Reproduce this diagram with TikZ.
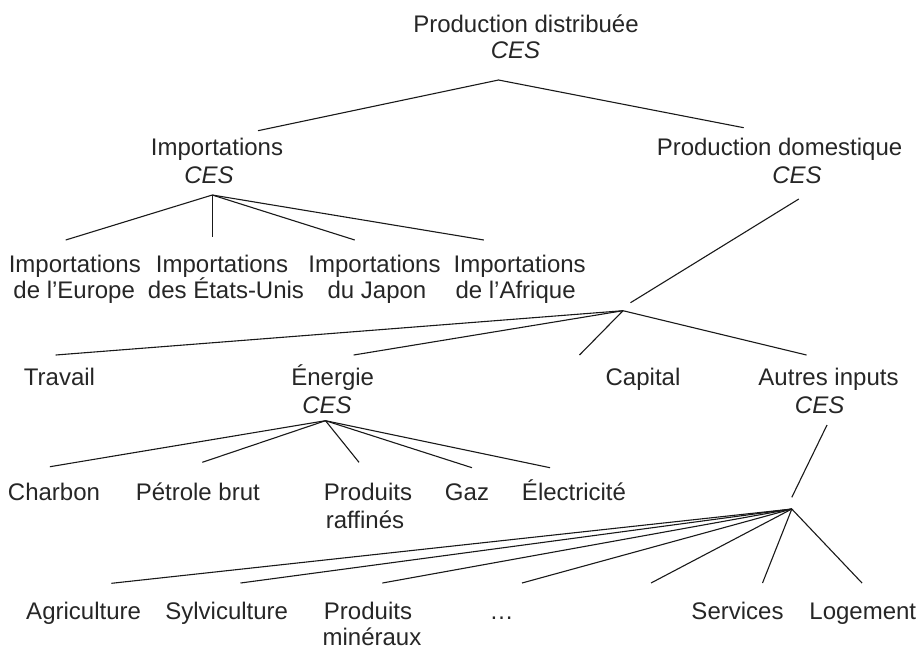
\documentclass[tikz,border=0pt]{standalone}
\usepackage{fontspec}
\setmainfont{Liberation Sans}
\begin{document}
\begin{tikzpicture}[x=1pt,y=-1pt,
  lbl/.style={inner sep=0pt, anchor=base, text=black!85, font=\fontsize{24}{28}\selectfont},
  ces/.style={lbl, font=\fontsize{24}{28}\selectfont\itshape},
  edge/.style={line width=1.1pt, black!90}]
\useasboundingbox (0,0) rectangle (917,649);
% level 0
\node[lbl] (pd) at (526,32) {Production distribuée};
\node[ces] (pdc) at (515.5,58) {CES};
% level 1
\node[lbl] (imp) at (217,155) {Importations};
\node[ces] (impc) at (209,183) {CES};
\node[lbl] (dom) at (779.5,155) {Production domestique};
\node[ces] (domc) at (797,183) {CES};
% imports children
\node[lbl] (i1) at (74.8,272) {Importations};
\node[lbl] (i1b) at (74.2,298) {de l’Europe};
\node[lbl] (i2) at (222,272) {Importations};
\node[lbl] (i2b) at (226,298) {des États-Unis};
\node[lbl] (i3) at (374.5,272) {Importations};
\node[lbl] (i3b) at (377,298) {du Japon};
\node[lbl] (i4) at (519.7,272) {Importations};
\node[lbl] (i4b) at (515.6,298) {de l’Afrique};
% domestic children
\node[lbl] (trav) at (59.5,385) {Travail};
\node[lbl] (ener) at (332.7,385) {Énergie};
\node[ces] (enerc) at (327,413) {CES};
\node[lbl] (cap) at (643,385) {Capital};
\node[lbl] (autr) at (828.5,385) {Autres inputs};
\node[ces] (autrc) at (819.6,413) {CES};
% energy children
\node[lbl] (e1) at (54,500) {Charbon};
\node[lbl] (e2) at (197.8,500) {Pétrole brut};
\node[lbl] (e3) at (368,500) {Produits};
\node[lbl] (e3b) at (365,528) {raffinés};
\node[lbl] (e4) at (467,500) {Gaz};
\node[lbl] (e5) at (574,500) {Électricité};
% other inputs children
\node[lbl] (a1) at (83.6,619) {Agriculture};
\node[lbl] (a2) at (226.7,619) {Sylviculture};
\node[lbl] (a3) at (368,619) {Produits};
\node[lbl] (a3b) at (372,645) {minéraux};
\node[lbl] (a4) at (501.5,619) {…};
\node[lbl] (a5) at (737.5,619) {Services};
\node[lbl] (a6) at (862.8,619) {Logement};
% connector points
\coordinate (pdA) at (498.5,80);
\coordinate (impT) at (258,130.7);
\coordinate (domT) at (743.7,127.7);
\coordinate (impA) at (212.3,195);
\coordinate (i1T) at (65.7,240);
\coordinate (i2T) at (212.3,236.7);
\coordinate (i3T) at (354.8,240);
\coordinate (i4T) at (483.9,240);
\coordinate (domA) at (798.8,199);
\coordinate (kT) at (630.5,302.7);
\coordinate (kA) at (623,310.7);
\coordinate (travT) at (55.7,355);
\coordinate (enerT) at (353.7,355);
\coordinate (capT) at (579.5,355);
\coordinate (autrT) at (806.5,355);
\coordinate (enerA) at (325.5,420.7);
\coordinate (e1T) at (49.9,466.7);
\coordinate (e2T) at (202.3,462.3);
\coordinate (e3T) at (359,462.3);
\coordinate (e4T) at (472,467.7);
\coordinate (e5T) at (550,467.7);
\coordinate (autrA) at (827,425);
\coordinate (oT) at (791.8,497.3);
\coordinate (oA) at (791.8,509);
\coordinate (a1T) at (111.4,583.3);
\coordinate (a2T) at (240.5,583);
\coordinate (a3T) at (382.4,583);
\coordinate (a4T) at (522,583);
\coordinate (a5T) at (651,583);
\coordinate (a6T) at (762.5,583);
\coordinate (a7T) at (862,583);
% connectors
\draw[edge] (impT) -- (pdA) -- (domT);
\draw[edge] (impA) -- (i1T);
\draw[edge] (impA) -- (i2T);
\draw[edge] (impA) -- (i3T);
\draw[edge] (impA) -- (i4T);
\draw[edge] (domA) -- (kT);
\draw[edge] (kA) -- (travT);
\draw[edge] (kA) -- (enerT);
\draw[edge] (kA) -- (capT);
\draw[edge] (kA) -- (autrT);
\draw[edge] (enerA) -- (e1T);
\draw[edge] (enerA) -- (e2T);
\draw[edge] (enerA) -- (e3T);
\draw[edge] (enerA) -- (e4T);
\draw[edge] (enerA) -- (e5T);
\draw[edge] (autrA) -- (oT);
\draw[edge] (oA) -- (a1T);
\draw[edge] (oA) -- (a2T);
\draw[edge] (oA) -- (a3T);
\draw[edge] (oA) -- (a4T);
\draw[edge] (oA) -- (a5T);
\draw[edge] (oA) -- (a6T);
\draw[edge] (oA) -- (a7T);
\end{tikzpicture}
\end{document}
